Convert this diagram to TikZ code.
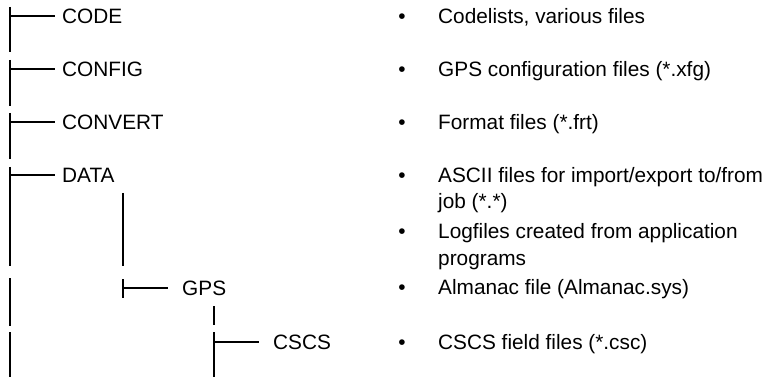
\documentclass[tikz,border=0pt]{standalone}
\usepackage{fontspec}
\setmainfont{Liberation Sans}
\begin{document}
\begin{tikzpicture}[x=1pt,y=-1pt,
  txt/.style={anchor=base west,inner sep=0pt,font=\fontsize{20.8}{23}\selectfont},
  bul/.style={anchor=base,inner sep=0pt,font=\fontsize{20.8}{23}\selectfont},
  tree/.style={line width=1.5pt,black}]
\useasboundingbox (0,0) rectangle (772,377);
% top-level bar
\draw[tree] (10,7) -- (10,52);
\draw[tree] (10,60) -- (10,106);
\draw[tree] (10,113) -- (10,159);
\draw[tree] (10,167) -- (10,266);
\draw[tree] (10,278) -- (10,326);
\draw[tree] (10,332) -- (10,377);
\foreach \r in {16,69,122,175} \draw[tree] (11,\r) -- (55,\r);
% second level
\draw[tree] (123,193) -- (123,266);
\draw[tree] (123,279) -- (123,298);
\draw[tree] (124,288) -- (168,288);
% third level
\draw[tree] (214,306) -- (214,325);
\draw[tree] (214,332) -- (214,377);
\draw[tree] (215,342) -- (259,342);
% folder names
\node[txt] (code) at (62,23.5) {CODE};
\node[txt] (config) at (62,76.5) {CONFIG};
\node[txt] (convert) at (62,129.5) {CONVERT};
\node[txt] (data) at (62,182.5) {DATA};
\node[txt] (gps) at (182,295.5) {GPS};
\node[txt] (cscs) at (273,349.5) {CSCS};
% bullets
\foreach \b/\n in {23.5/b1,76.5/b2,129.5/b3,182.5/b4,239/b5,294.5/b6,349.5/b7}
  \node[bul] (\n) at (402,\b) {•};
% descriptions
\node[txt] (d1) at (438,23.5) {Codelists, various files};
\node[txt] (d2) at (438,76.5) {GPS configuration files (*.xfg)};
\node[txt] (d3) at (438,129.5) {Format files (*.frt)};
\node[txt] (d4a) at (438,182.5) {ASCII files for import/export to/from};
\node[txt] (d4b) at (438,209) {job (*.*)};
\node[txt] (d5a) at (438,239) {Logfiles created from application};
\node[txt] (d5b) at (438,265.5) {programs};
\node[txt] (d6) at (438,294.5) {Almanac file (Almanac.sys)};
\node[txt] (d7) at (438,349.5) {CSCS field files (*.csc)};
\end{tikzpicture}
\end{document}
